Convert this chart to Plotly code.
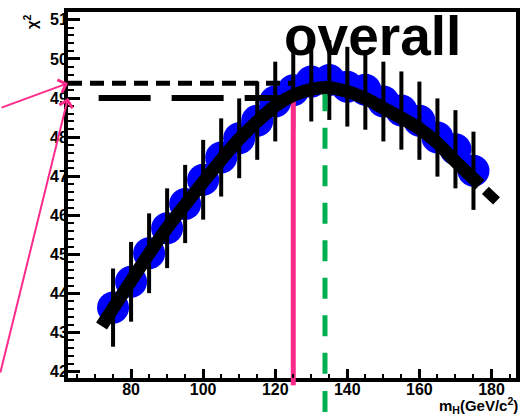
import plotly.graph_objects as go

# ---- data ----
mass = [75, 80, 85, 90, 95, 100, 105, 110, 115, 120, 125,
        130, 135, 140, 145, 150, 155, 160, 165, 170, 175]
chi2 = [43.64, 44.30, 45.03, 45.67, 46.29, 46.91, 47.48, 47.97, 48.42, 48.91, 49.20,
        49.42, 49.46, 49.29, 49.21, 48.91, 48.68, 48.42, 47.99, 47.69, 47.14]
chi2_err = [1.00, 1.02, 1.02, 1.02, 1.00, 1.02, 1.00, 1.02, 1.00, 1.02, 1.00,
            1.02, 1.02, 1.02, 1.02, 1.02, 1.00, 1.00, 1.00, 1.00, 1.00]

fit_mass = [71.8, 75, 80, 85, 90, 95, 100, 105, 110, 115, 120, 125, 130, 134,
            140, 145, 150, 155, 160, 165, 170, 176.8]
fit_chi2 = [43.17, 43.62, 44.32, 45.02, 45.68, 46.27, 46.85, 47.42, 47.95, 48.40,
            48.80, 49.07, 49.22, 49.27, 49.17, 48.99, 48.74, 48.49, 48.22, 47.85,
            47.38, 46.78]
tail_mass = [178.3, 181.4]
tail_chi2 = [46.64, 46.37]

chi2_max = 49.38      # upper dashed level
chi2_at_sm = 49.00    # lower dashed level
m_sm = 125.0          # pink line
m_best = 133.8        # green line
green_top = 49.2
lower_start = 71.0

x_range = [62.5, 186.8]
y_range = [41.84, 51.2]
x_ticks = [80, 100, 120, 140, 160, 180]
y_ticks = [42, 43, 44, 45, 46, 47, 48, 49, 50, 51]

PINK = "#ff2a8a"
GREEN = "#00b050"
FONT = "Liberation Sans, Arial, sans-serif"

fig = go.Figure()

# blue points
fig.add_trace(go.Scatter(x=mass, y=chi2, mode="markers",
                         marker=dict(size=32, color="#0000ff", line=dict(width=0)),
                         hoverinfo="skip"))
# error bars
fig.add_trace(go.Scatter(x=mass, y=chi2, mode="markers",
                         marker=dict(size=2, color="black", opacity=0),
                         error_y=dict(type="data", array=chi2_err, visible=True,
                                      color="black", thickness=4, width=0),
                         hoverinfo="skip"))
# horizontal dashed lines
fig.add_trace(go.Scatter(x=[x_range[0], m_sm], y=[chi2_max, chi2_max], mode="lines",
                         line=dict(color="black", width=5, dash="14px,8px"),
                         hoverinfo="skip"))
fig.add_trace(go.Scatter(x=[lower_start, m_sm], y=[chi2_at_sm, chi2_at_sm], mode="lines",
                         line=dict(color="black", width=6, dash="52px,21px"),
                         hoverinfo="skip"))
# pink vertical line
fig.add_trace(go.Scatter(x=[m_sm, m_sm], y=[chi2_at_sm, y_range[0]], mode="lines",
                         line=dict(color=PINK, width=5), hoverinfo="skip"))
# green dashed vertical line
fig.add_trace(go.Scatter(x=[m_best, m_best], y=[green_top, y_range[0]], mode="lines",
                         line=dict(color=GREEN, width=5, dash="21px,16.5px"),
                         hoverinfo="skip"))
# fit curve
fig.add_trace(go.Scatter(x=fit_mass, y=fit_chi2, mode="lines",
                         line=dict(color="black", width=13, shape="spline", smoothing=0.8),
                         hoverinfo="skip"))
fig.add_trace(go.Scatter(x=tail_mass, y=tail_chi2, mode="lines",
                         line=dict(color="black", width=10), hoverinfo="skip"))

# extensions below the frame
fig.add_shape(type="line", xref="x", yref="paper", x0=m_sm, x1=m_sm, y0=0, y1=-0.02,
              line=dict(color=PINK, width=5), layer="above")
fig.add_shape(type="line", xref="x", yref="paper", x0=m_best, x1=m_best, y0=-0.093, y1=0,
              line=dict(color=GREEN, width=5, dash="21px,16.5px"), layer="above")

# arrows
for lvl, ay in [(chi2_max, 25), (chi2_at_sm, 276)]:
    fig.add_annotation(x=x_range[0], y=lvl, xref="x", yref="y", text="",
                       showarrow=True, arrowhead=4, arrowsize=1.3, arrowwidth=2,
                       arrowcolor=PINK, ax=-68, ay=ay, axref="pixel", ayref="pixel")

# texts
fig.add_annotation(x=0.679, y=0.935, xref="paper", yref="paper", text="<b>overall</b>",
                   showarrow=False, font=dict(family=FONT, size=55, color="black"),
                   xanchor="center", yanchor="middle")
fig.add_annotation(x=-0.085, y=0.975, xref="paper", yref="paper", text="<b>χ<sup>2</sup></b>",
                   showarrow=False, textangle=-90, font=dict(family=FONT, size=15, color="black"),
                   xanchor="center", yanchor="middle")
fig.add_annotation(x=1.0, y=-0.074, xref="paper", yref="paper",
                   text="<b>m<sub>H</sub>(GeV/c<sup>2</sup>)</b>", xshift=3, borderpad=0,
                   showarrow=False, font=dict(family=FONT, size=15, color="black"),
                   xanchor="right", yanchor="middle")

axis_common = dict(showgrid=False, zeroline=False, showline=True, linecolor="black",
                   linewidth=4, mirror=True, ticks="inside", tickcolor="black",
                   tickfont=dict(family=FONT, size=16, color="black", weight="bold"))
fig.update_xaxes(range=x_range, tickvals=x_ticks, ticklen=9, tickwidth=3,
                 ticklabelstandoff=-6,
                 minor=dict(dtick=5, tick0=0, ticklen=4, tickwidth=2, ticks="inside",
                            tickcolor="black"),
                 **axis_common)
fig.update_yaxes(range=y_range, tickvals=y_ticks, ticklen=12, tickwidth=3,
                 ticklabelstandoff=-7,
                 minor=dict(dtick=0.2, tick0=42, ticklen=6, tickwidth=2, ticks="inside",
                            tickcolor="black"),
                 **axis_common)

fig.update_layout(width=524, height=416, margin=dict(l=68, r=4, t=12, b=38),
                  paper_bgcolor="white", plot_bgcolor="white", showlegend=False,
                  hovermode=False)

fig.write_html("out.html", config={"displayModeBar": False})
